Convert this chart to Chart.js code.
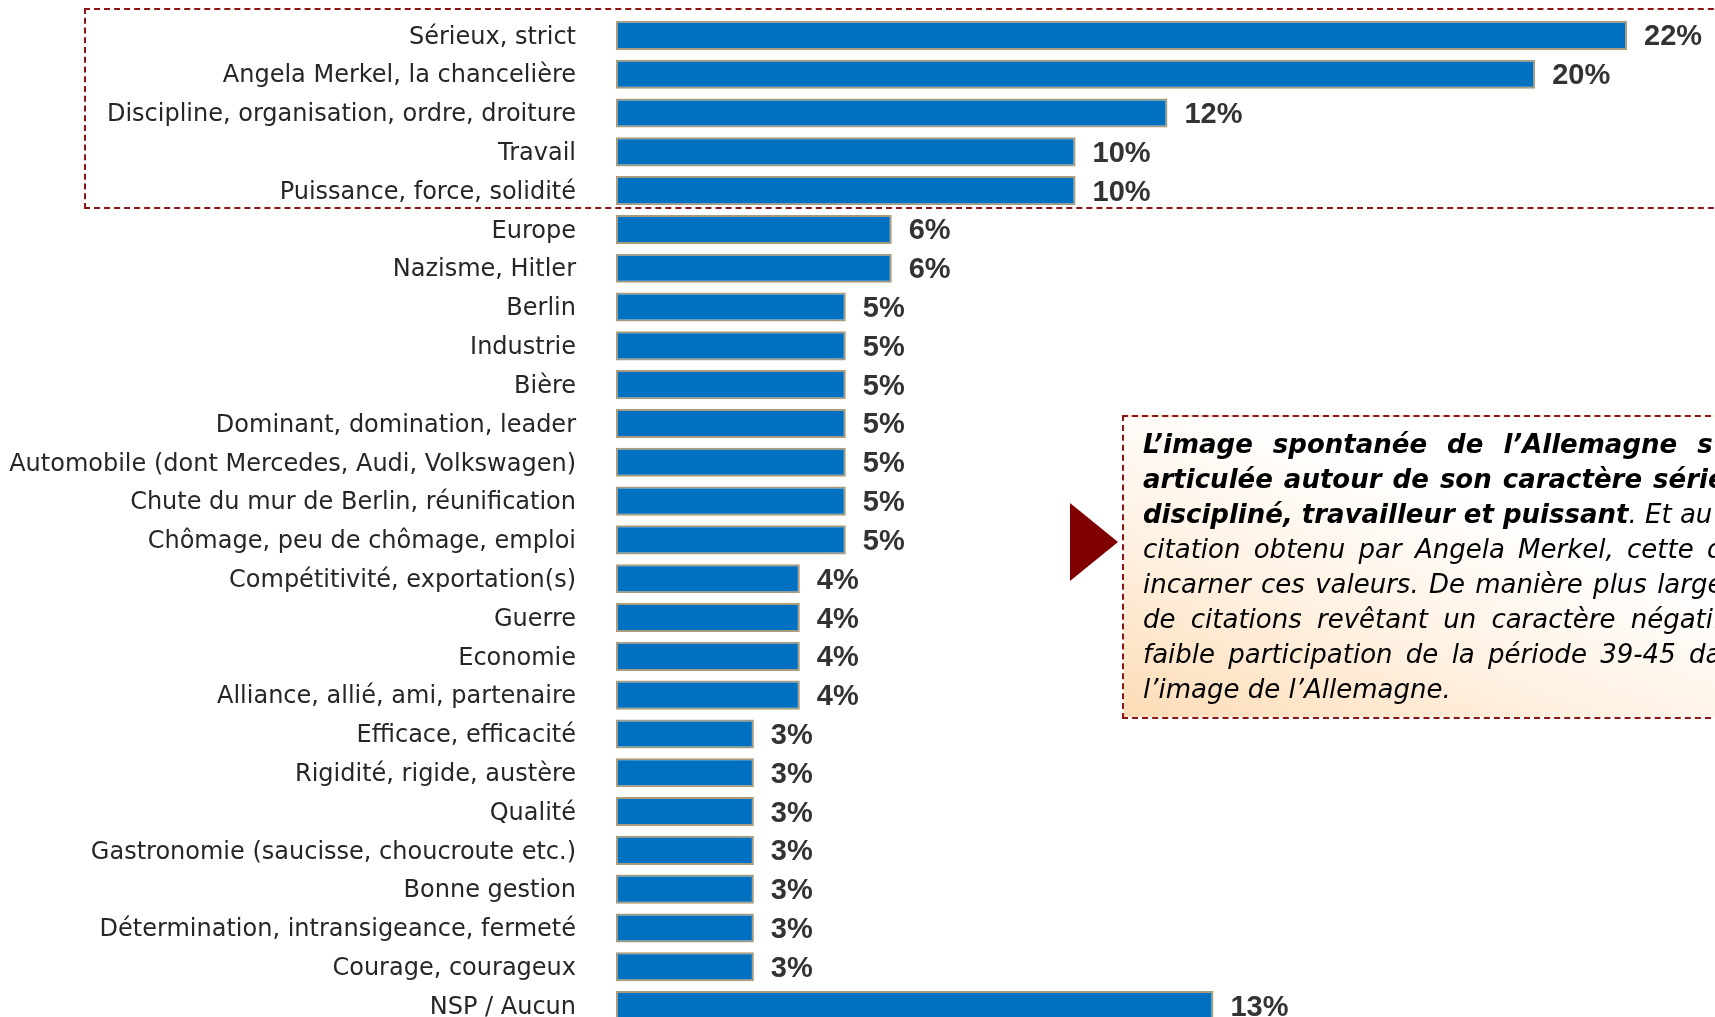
<!DOCTYPE html>
<html lang="fr">
<head>
<meta charset="UTF-8">
<title>Image spontanée de l'Allemagne</title>
<script src="https://cdn.jsdelivr.net/npm/chart.js"></script>
<style>
  html, body {
    margin: 0;
    padding: 0;
    width: 1715px;
    height: 1017px;
    overflow: hidden;
    background: #fff;
  }
  #wrap {
    position: absolute;
    left: 0;
    top: 0;
    width: 1715px;
    height: 1040px;
  }
  .frame {
    position: absolute;
    box-sizing: border-box;
    border: 2px dashed #8c1616;
  }
  #topFrame {
    left: 84px;
    top: 8px;
    width: 1700px;
    height: 201px;
  }
  #note {
    left: 1122px;
    top: 415px;
    width: 800px;
    height: 304px;
    padding: 10px 0 0 19px;
    overflow: hidden;
    background: linear-gradient(to top right, #fcdcb6 0%, #fff1e2 30%, #ffffff 58%);
    font-family: "DejaVu Sans", sans-serif;
    font-style: italic;
    font-size: 26px;
    line-height: 35px;
    color: #000;
  }
  #note .ln {
    white-space: nowrap;
    height: 35px;
  }
  #arrow {
    position: absolute;
    left: 1070px;
    top: 503px;
    width: 0;
    height: 0;
    border-left: 48px solid #800000;
    border-top: 39px solid transparent;
    border-bottom: 39px solid transparent;
  }
</style>
</head>
<body>
<div id="wrap">
  <canvas id="chart" width="1715" height="1040"></canvas>
</div>
<div id="topFrame" class="frame"></div>
<div id="arrow"></div>
<div id="note" class="frame">
  <div class="ln" style="word-spacing:11px"><b>L’image spontanée de l’Allemagne s’est</b></div>
  <div class="ln" style="word-spacing:2px"><b>articulée autour de son caractère sérieux,</b></div>
  <div class="ln"><b>discipliné, travailleur et puissant</b>. Et au vu du taux de</div>
  <div class="ln" style="word-spacing:5px">citation obtenu par Angela Merkel, cette dernière semble</div>
  <div class="ln" style="word-spacing:2px">incarner ces valeurs. De manière plus large, on note peu</div>
  <div class="ln" style="word-spacing:7px">de citations revêtant un caractère négatif, et une</div>
  <div class="ln" style="word-spacing:5px">faible participation de la période 39-45 dans</div>
  <div class="ln">l’image de l’Allemagne.</div>
</div>

<script>
  const categories = [
    'Sérieux, strict',
    'Angela Merkel, la chancelière',
    'Discipline, organisation, ordre, droiture',
    'Travail',
    'Puissance, force, solidité',
    'Europe',
    'Nazisme, Hitler',
    'Berlin',
    'Industrie',
    'Bière',
    'Dominant, domination, leader',
    'Automobile (dont Mercedes, Audi, Volkswagen)',
    'Chute du mur de Berlin, réunification',
    'Chômage, peu de chômage, emploi',
    'Compétitivité, exportation(s)',
    'Guerre',
    'Economie',
    'Alliance, allié, ami, partenaire',
    'Efficace, efficacité',
    'Rigidité, rigide, austère',
    'Qualité',
    'Gastronomie (saucisse, choucroute etc.)',
    'Bonne gestion',
    'Détermination, intransigeance, fermeté',
    'Courage, courageux',
    'NSP / Aucun'
  ];

  const values = [22, 20, 12, 10, 10, 6, 6, 5, 5, 5, 5, 5, 5, 5, 4, 4, 4, 4, 3, 3, 3, 3, 3, 3, 3, 13];

  // percent labels to the right of each bar
  const valueLabels = {
    id: 'valueLabels',
    afterDatasetsDraw(chart) {
      const ctx = chart.ctx;
      const meta = chart.getDatasetMeta(0);
      ctx.save();
      ctx.font = 'bold 29px "Liberation Sans", Arial, sans-serif';
      ctx.fillStyle = '#333333';
      ctx.textAlign = 'left';
      ctx.textBaseline = 'middle';
      meta.data.forEach((bar, i) => {
        ctx.fillText(values[i] + '%', bar.x + 17, bar.y + 2);
      });
      ctx.restore();
    }
  };

  new Chart(document.getElementById('chart'), {
    type: 'bar',
    data: {
      labels: categories,
      datasets: [{
        data: values,
        backgroundColor: '#0070C0',
        borderColor: '#a89c7c',
        borderWidth: 2,
        borderSkipped: false,
        categoryPercentage: 1,
        barPercentage: 0.75
      }]
    },
    options: {
      indexAxis: 'y',
      responsive: false,
      animation: false,
      devicePixelRatio: 1,
      events: [],
      layout: {
        padding: { top: 16, bottom: 15, right: 42, left: 0 }
      },
      plugins: {
        legend: { display: false },
        tooltip: { enabled: false }
      },
      scales: {
        x: {
          display: false,
          min: 0,
          max: 23
        },
        y: {
          afterFit(scale) {
            scale.width = 616;
          },
          // tick marks hidden, tickLength only used as gap between label and bar
          grid: { display: false, drawTicks: true, tickLength: 40 },
          border: { display: false },
          ticks: {
            color: '#262626',
            padding: 0,
            labelOffset: 2,
            font: { family: 'DejaVu Sans', size: 24 }
          }
        }
      }
    },
    plugins: [valueLabels]
  });
</script>
</body>
</html>
